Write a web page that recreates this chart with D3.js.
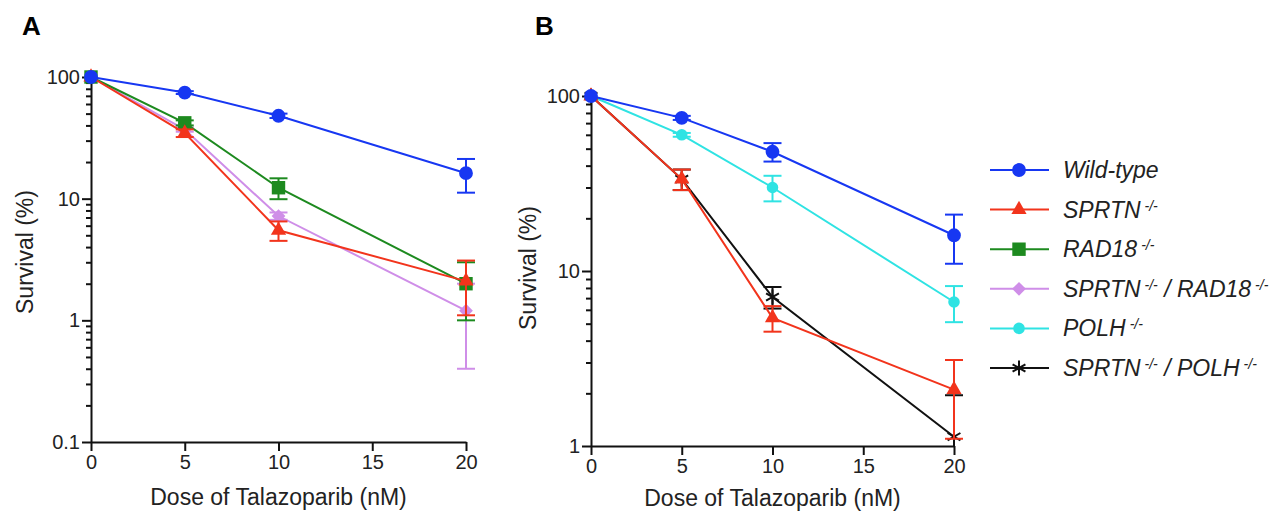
<!DOCTYPE html>
<html>
<head>
<meta charset="utf-8">
<script src="https://cdn.jsdelivr.net/npm/d3@7"></script>
<style>
	body { margin: 0; background: #fff; }
	svg { font-family: "Liberation Sans", Arial, Helvetica, sans-serif; }
</style>
</head>
<body>
<svg id="chart" width="1281" height="513"></svg>
<script>

// doses on the x axis (nM)
var doses = [0, 5, 10, 20];
var xTickValues = [0, 5, 10, 15, 20];
var yTicksA = [0.1, 1, 10, 100];
var yTicksB = [1, 10, 100];

// panel A, mean survival and error (%)
var wildTypeA = [100, 74.5, 48, 16.2];
var wildTypeErrA = [0, 2, 2, 5];
var sprtnA = [100, 34.6, 5.5, 2.1];
var sprtnErrA = [0, 2.5, 1.0, 1.0];
var rad18A = [100, 42, 12.3, 2.0];
var rad18ErrA = [0, 2, 2.4, 1.0];
var sprtnRad18A = [100, 37, 7.2, 1.2];
var sprtnRad18ErrA = [0, 1.5, 0.5, 0.8];

// panel B
var wildTypeB = [100, 75, 48, 16];
var wildTypeErrB = [0, 2, 5.8, 5];
var sprtnB = [100, 33.5, 5.4, 2.1];
var sprtnErrB = [0, 4.5, 0.9, 1.0];
var polhB = [100, 60, 30, 6.65];
var polhErrB = [0, 1.5, 5, 1.55];
var sprtnPolhB = [100, 33.5, 7.1, 1.13];
var sprtnPolhErrB = [0, 4.5, 1.0, 0.82];

var legendNames = [
	["Wild-type"],
	["SPRTN", "-/-"],
	["RAD18", "-/-"],
	["SPRTN", "-/-", " / RAD18", "-/-"],
	["POLH", "-/-"],
	["SPRTN", "-/-", " / POLH", "-/-"]
];

/**
 * custom symbols: rotated square and a six arm asterisk
 */
var symbolDiamondSq = {
	draw: function(ctx, size)
	{
		var r = Math.sqrt(size / 2);
		ctx.moveTo(0, -r);
		ctx.lineTo(r, 0);
		ctx.lineTo(0, r);
		ctx.lineTo(-r, 0);
		ctx.closePath();
	}
};

var symbolStar = {
	draw: function(ctx, size)
	{
		var r = Math.sqrt(size) / 2;
		for(var i = 0; i < 3; i++)
		{
			var a = Math.PI / 2 + i * Math.PI / 3;
			ctx.moveTo(r * Math.cos(a), r * Math.sin(a));
			ctx.lineTo(-r * Math.cos(a), -r * Math.sin(a));
		}
	}
};

var styles = {
	wt:     { color: "#1737f2", type: d3.symbolCircle, size: 150, fill: true },
	sprtn:  { color: "#f2341c", type: d3.symbolTriangle, size: 100, fill: true },
	rad18:  { color: "#1d8a1f", type: d3.symbolSquare, size: 180, fill: true },
	double: { color: "#cf8ee8", type: symbolDiamondSq, size: 95, fill: true },
	polh:   { color: "#2fe3e3", type: d3.symbolCircle, size: 105, fill: true },
	sp:     { color: "#111111", type: symbolStar, size: 220, fill: false }
};

var svg = d3.select("#chart");

/**
 * draws one panel: axes, error bars, lines and markers.
 */
function drawPanel(opt)
{
	var x = d3.scaleLinear().domain([0, 20]).range([opt.left, opt.right]);
	var y = d3.scaleLog().domain(opt.yDomain).range([opt.bottom, opt.top]);

	var g = svg.append("g");

	// panel letter
	g.append("text")
		.attr("x", opt.letterX).attr("y", 35)
		.style("font-size", "26px").style("font-weight", "bold")
		.text(opt.letter);

	// minor log ticks
	var minors = [];
	var lo = Math.log10(opt.yDomain[0]), hi = Math.log10(opt.yDomain[1]);
	for(var e = lo; e < hi; e++)
		for(var m = 2; m < 10; m++)
			minors.push(m * Math.pow(10, e));

	g.append("g")
		.attr("class", "y minor")
		.attr("transform", "translate(" + opt.left + ",0)")
		.call(d3.axisLeft(y).tickValues(minors).tickSize(5).tickFormat(""))
		.call(function(s) { s.select(".domain").remove(); });

	g.append("g")
		.attr("class", "y axis")
		.attr("transform", "translate(" + opt.left + ",0)")
		.call(d3.axisLeft(y).tickValues(opt.yTicks).tickSize(9).tickSizeOuter(0).tickPadding(2)
			.tickFormat(function(d) { return d < 1 ? "0.1" : d3.format("d")(d); }));

	g.append("g")
		.attr("class", "x axis")
		.attr("transform", "translate(0," + opt.bottom + ")")
		.call(d3.axisBottom(x).tickValues(xTickValues).tickSize(9).tickSizeOuter(0).tickPadding(4));

	g.selectAll(".axis path, .axis line, .minor line")
		.attr("stroke", "#111").attr("stroke-width", 2);
	g.selectAll(".axis text")
		.attr("fill", "#222").style("font-size", "20px");

	// axis titles
	g.append("text")
		.attr("transform", "translate(" + opt.yTitleX + "," + opt.yTitleY + ") rotate(-90)")
		.attr("text-anchor", "middle")
		.attr("fill", "#222")
		.style("font-size", "23px")
		.text("Survival (%)");

	g.append("text")
		.attr("x", (opt.left + opt.right) / 2).attr("y", opt.xTitleY)
		.attr("text-anchor", "middle")
		.attr("fill", "#222")
		.style("font-size", "23px")
		.text("Dose of Talazoparib (nM)");

	var yMin = opt.yDomain[0];
	var line = d3.line()
		.x(function(d) { return x(d.dose); })
		.y(function(d) { return y(d.value); });

	opt.series.forEach(function(s)
	{
		var st = styles[s.style];
		var pts = doses.map(function(d, i)
		{
			return { dose: d, value: s.values[i], err: s.errors[i] };
		});

		var sg = g.append("g");

		// error bars
		var eb = sg.selectAll(".err")
			.data(pts.filter(function(p) { return p.err > 0; }))
			.enter().append("g").attr("class", "err");

		eb.append("line")
			.attr("x1", function(p) { return x(p.dose); })
			.attr("x2", function(p) { return x(p.dose); })
			.attr("y1", function(p) { return y(p.value + p.err); })
			.attr("y2", function(p) { return y(Math.max(yMin, p.value - p.err)); });

		eb.append("line")
			.attr("x1", function(p) { return x(p.dose) - 9; })
			.attr("x2", function(p) { return x(p.dose) + 9; })
			.attr("y1", function(p) { return y(p.value + p.err); })
			.attr("y2", function(p) { return y(p.value + p.err); });

		eb.filter(function(p) { return p.value - p.err >= yMin; })
			.append("line")
			.attr("x1", function(p) { return x(p.dose) - 9; })
			.attr("x2", function(p) { return x(p.dose) + 9; })
			.attr("y1", function(p) { return y(p.value - p.err); })
			.attr("y2", function(p) { return y(p.value - p.err); });

		eb.selectAll("line").attr("stroke", st.color).attr("stroke-width", 2);

		sg.append("path")
			.datum(pts)
			.attr("d", line)
			.attr("fill", "none")
			.attr("stroke", st.color)
			.attr("stroke-width", 2);

		sg.selectAll(".mark")
			.data(pts)
			.enter().append("path")
				.attr("class", "mark")
				.attr("transform", function(p) { return "translate(" + x(p.dose) + "," + y(p.value) + ")"; })
				.attr("d", d3.symbol().type(st.type).size(st.size))
				.attr("fill", st.fill ? st.color : "none")
				.attr("stroke", st.color)
				.attr("stroke-width", st.fill ? 0 : 2);
	});
}

drawPanel({
	letter: "A", letterX: 22,
	left: 91, right: 466, top: 77, bottom: 442,
	yDomain: [0.1, 100], yTicks: yTicksA,
	yTitleX: 33, yTitleY: 252, xTitleY: 505,
	series: [
		{ style: "double", values: sprtnRad18A, errors: sprtnRad18ErrA },
		{ style: "rad18", values: rad18A, errors: rad18ErrA },
		{ style: "sprtn", values: sprtnA, errors: sprtnErrA },
		{ style: "wt", values: wildTypeA, errors: wildTypeErrA }
	]
});

drawPanel({
	letter: "B", letterX: 535,
	left: 591, right: 954, top: 96, bottom: 446,
	yDomain: [1, 100], yTicks: yTicksB,
	yTitleX: 536, yTitleY: 268, xTitleY: 506,
	series: [
		{ style: "polh", values: polhB, errors: polhErrB },
		{ style: "sp", values: sprtnPolhB, errors: sprtnPolhErrB },
		{ style: "sprtn", values: sprtnB, errors: sprtnErrB },
		{ style: "wt", values: wildTypeB, errors: wildTypeErrB }
	]
});

// legend
var legendKeys = ["wt", "sprtn", "rad18", "double", "polh", "sp"];
var legend = svg.append("g").attr("class", "legend");

legendKeys.forEach(function(k, i)
{
	var st = styles[k];
	var cy = 170 + i * 39.6;
	var row = legend.append("g").attr("transform", "translate(0," + cy + ")");

	row.append("line")
		.attr("x1", 990).attr("x2", 1049)
		.attr("stroke", st.color).attr("stroke-width", 2);

	row.append("path")
		.attr("transform", "translate(1019,0)")
		.attr("d", d3.symbol().type(st.type).size(st.size))
		.attr("fill", st.fill ? st.color : "none")
		.attr("stroke", st.color)
		.attr("stroke-width", st.fill ? 0 : 2);

	var t = row.append("text")
		.attr("x", 1063).attr("y", 8)
		.attr("fill", "#222")
		.style("font-size", "23px")
		.style("font-style", "italic");

	legendNames[i].forEach(function(part, j)
	{
		if(j % 2 === 0)
			t.append("tspan").attr("dy", j === 0 ? 0 : 7).text(part);
		else
			t.append("tspan").attr("dx", 4).attr("dy", -7).style("font-size", "14px").text(part);
	});
});

</script>
</body>
</html>
